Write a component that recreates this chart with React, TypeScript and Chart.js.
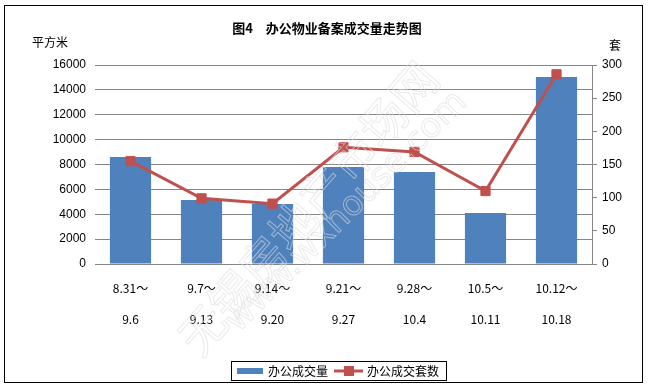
import React, { useEffect, useRef } from "react";
import { Chart, registerables } from "chart.js";

Chart.register(...registerables);

// ---- data ----
const categories: string[][] = [
  ["8.31～", "9.6"],
  ["9.7～", "9.13"],
  ["9.14～", "9.20"],
  ["9.21～", "9.27"],
  ["9.28～", "10.4"],
  ["10.5～", "10.11"],
  ["10.12～", "10.18"],
];
const areaValues = [8600, 5150, 4820, 7800, 7400, 4100, 15030];
const unitValues = [155, 99, 91, 176, 169, 110, 286];
const areaLabel = "办公成交量";
const unitLabel = "办公成交套数";
const titleText = "图4　办公物业备案成交量走势图";
const leftUnit = "平方米";
const rightUnit = "套";
const leftMax = 16000;
const leftStep = 2000;
const rightMax = 300;
const rightStep = 50;

const BLUE = "#4F81BD";
const RED = "#C0504D";
const GRID = "#868686";
const CJK = '"Noto Sans CJK SC", "Noto Sans", sans-serif';
const NUM = '"Liberation Sans", Arial, sans-serif';

const W = 653;
const H = 388;

const decorPlugin = {
  id: "decor",
  beforeDraw(chart: any) {
    const ctx = chart.ctx;
    ctx.save();
    ctx.fillStyle = "#ffffff";
    ctx.fillRect(0, 0, W, H);
    ctx.restore();
  },
  afterDraw(chart: any) {
    const ctx = chart.ctx;
    ctx.save();
    // outer frame
    ctx.strokeStyle = "#000";
    ctx.lineWidth = 1;
    ctx.strokeRect(4.5, 5.5, 638, 377);

    // title
    ctx.fillStyle = "#000";
    ctx.font = `bold 13px ${CJK}`;
    ctx.textAlign = "center";
    ctx.textBaseline = "middle";
    ctx.fillText(titleText, 327, 28);

    // axis units
    ctx.font = `12px ${CJK}`;
    ctx.textAlign = "left";
    ctx.fillText(leftUnit, 32, 42);
    ctx.textAlign = "center";
    ctx.fillText(rightUnit, 615, 45);

    // legend
    const lx = 231, ly = 361, lw = 215, lh = 19;
    ctx.strokeStyle = "#000";
    ctx.lineWidth = 1;
    ctx.strokeRect(lx + 0.5, ly + 0.5, lw, lh);
    const cy = ly + lh / 2 + 0.5;
    const ds0 = chart.data.datasets[0];
    const ds1 = chart.data.datasets[1];
    ctx.fillStyle = ds0.backgroundColor;
    ctx.fillRect(237, cy - 3, 26, 6);
    ctx.fillStyle = "#000";
    ctx.textAlign = "left";
    ctx.textBaseline = "middle";
    ctx.font = `12px ${CJK}`;
    ctx.fillText(ds0.label, 268, cy);
    ctx.strokeStyle = ds1.borderColor;
    ctx.lineWidth = 3;
    ctx.beginPath();
    ctx.moveTo(334, cy);
    ctx.lineTo(363, cy);
    ctx.stroke();
    ctx.fillStyle = ds1.borderColor;
    ctx.fillRect(344, cy - 5, 10, 10);
    ctx.fillStyle = "#000";
    ctx.fillText(ds1.label, 367, cy);

    // watermark
    ctx.strokeStyle = "rgba(220,220,220,0.6)";
    ctx.lineWidth = 1;
    ctx.textAlign = "center";
    ctx.textBaseline = "middle";
    ctx.save();
    ctx.translate(308, 208);
    ctx.rotate((-49 * Math.PI) / 180);
    ctx.font = `46px ${CJK}`;
    ctx.strokeText("无锡房地产市场网", 0, 0);
    ctx.restore();
    ctx.save();
    ctx.translate(347, 212);
    ctx.rotate((-45 * Math.PI) / 180);
    ctx.font = `34px "DejaVu Sans", sans-serif`;
    ctx.strokeText("www.wxhouse.com", 0, 0);
    ctx.restore();

    ctx.restore();
  },
};

export default function App() {
  const ref = useRef<HTMLCanvasElement | null>(null);

  useEffect(() => {
    document.body.style.margin = "0";
    const canvas = ref.current!;
    const chart = new Chart(canvas, {
      type: "bar",
      data: {
        labels: categories,
        datasets: [
          {
            type: "bar",
            label: areaLabel,
            data: areaValues,
            backgroundColor: BLUE,
            borderWidth: 0,
            yAxisID: "y",
            categoryPercentage: 1,
            barPercentage: 0.58,
            order: 2,
          },
          {
            type: "line",
            label: unitLabel,
            data: unitValues,
            borderColor: RED,
            backgroundColor: RED,
            borderWidth: 3,
            pointStyle: "rect",
            pointRadius: 6.5,
            pointBorderWidth: 1,
            pointBackgroundColor: RED,
            pointBorderColor: RED,
            tension: 0,
            yAxisID: "y1",
            order: 1,
          } as any,
        ],
      },
      options: {
        responsive: false,
        animation: false,
        devicePixelRatio: 1,
        layout: { padding: { top: 65, left: 0, right: 0, bottom: 0 } },
        plugins: {
          legend: { display: false },
          title: { display: false },
          tooltip: { enabled: false },
        },
        scales: {
          x: {
            offset: true,
            grid: { display: false },
            border: { display: false },
            ticks: {
              color: "#000",
              font: { family: CJK, size: 12, lineHeight: 2.6 },
              padding: 1,
              maxRotation: 0,
              autoSkip: false,
            },
            afterFit(scale: any) {
              scale.height = H - 264;
            },
          },
          y: {
            position: "left",
            min: 0,
            max: leftMax,
            ticks: {
              stepSize: leftStep,
              color: "#000",
              font: { family: NUM, size: 12 },
              padding: 9,
              callback: (v: any) => String(v),
            },
            grid: { color: GRID, lineWidth: 1, drawTicks: false },
            border: { display: false },
            afterFit(scale: any) {
              scale.width = 95;
            },
          },
          y1: {
            position: "right",
            min: 0,
            max: rightMax,
            ticks: {
              stepSize: rightStep,
              color: "#000",
              font: { family: NUM, size: 12 },
              padding: 5,
              callback: (v: any) => String(v),
            },
            grid: {
              drawOnChartArea: false,
              color: GRID,
              tickLength: 5,
              tickColor: GRID,
            },
            border: { display: true, color: GRID, width: 1 },
            afterFit(scale: any) {
              scale.width = W - 592;
            },
          },
        },
      },
      plugins: [decorPlugin],
    });
    return () => chart.destroy();
  }, []);

  return (
    <div style={{ position: "absolute", left: 0, top: 0, width: W, height: H }}>
      <canvas ref={ref} width={W} height={H} style={{ display: "block", width: W, height: H }} />
    </div>
  );
}
